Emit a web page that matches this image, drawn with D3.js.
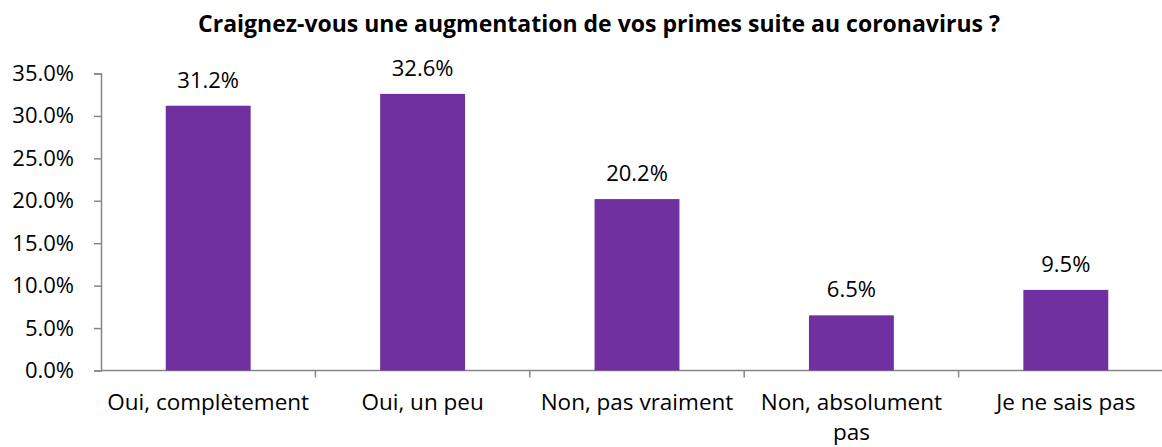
<!DOCTYPE html>
<html>
<head>
<meta charset="utf-8">
<script src="https://cdn.jsdelivr.net/npm/d3@7"></script>
<style>
  body { margin: 0; background: #fff; }
  text { font-family: "Open Sans", sans-serif; fill: #000; }
</style>
</head>
<body>
<svg width="1162" height="447"></svg>
<script>
// chart data
var categories = ["Oui, complètement", "Oui, un peu", "Non, pas vraiment", "Non, absolument pas", "Je ne sais pas"];
var values = [31.2, 32.6, 20.2, 6.5, 9.5];
var yTicks = [0, 5, 10, 15, 20, 25, 30, 35];
var title = "Craignez-vous une augmentation de vos primes suite au coronavirus ?";

var svg = d3.select("svg");

var x = d3.scaleBand()
  .domain(categories)
  .range([101, 1173])
  .padding(0);

var y = d3.scaleLinear()
  .domain([0, 35])
  .range([370.5, 73.5]);

// title
svg.append("text")
  .attr("x", 599)
  .attr("y", 32)
  .attr("text-anchor", "middle")
  .style("font-weight", "bold")
  .style("font-size", "23px")
  .text(title);

// y axis
var yAxis = d3.axisLeft(y)
  .tickValues(yTicks)
  .tickFormat(function(d) { return d.toFixed(1) + "%"; })
  .tickSize(7)
  .tickPadding(20);

var gy = svg.append("g")
  .attr("transform", "translate(101,0)")
  .call(yAxis);
gy.select(".domain").attr("stroke", "#868686").attr("stroke-width", 1.5);
gy.selectAll(".tick line").attr("stroke", "#868686").attr("stroke-width", 1.5);
gy.selectAll(".tick text")
  .style("font-size", "22px")
  .style("font-family", "'Open Sans', sans-serif")
  .attr("fill", "#000");

// x axis line + boundary ticks
svg.append("line")
  .attr("x1", 101).attr("x2", 1173)
  .attr("y1", y(0)).attr("y2", y(0))
  .attr("stroke", "#868686").attr("stroke-width", 1.5);

svg.selectAll(".xtick")
  .data(categories.slice(1))
  .enter().append("line")
  .attr("class", "xtick")
  .attr("x1", function(d) { return x(d); })
  .attr("x2", function(d) { return x(d); })
  .attr("y1", y(0)).attr("y2", y(0) + 7)
  .attr("stroke", "#868686").attr("stroke-width", 1.5);

// bars
svg.selectAll(".bar")
  .data(values)
  .enter().append("rect")
  .attr("class", "bar")
  .attr("x", function(d, i) { return x(categories[i]) + x.bandwidth() * 0.302; })
  .attr("width", x.bandwidth() * 0.396)
  .attr("y", function(d) { return y(d); })
  .attr("height", function(d) { return y(0) - y(d); })
  .attr("fill", "#7030A0");

// value labels
svg.selectAll(".val")
  .data(values)
  .enter().append("text")
  .attr("class", "val")
  .attr("x", function(d, i) { return x(categories[i]) + x.bandwidth() / 2; })
  .attr("y", function(d) { return y(d) - 18; })
  .attr("text-anchor", "middle")
  .style("font-size", "22px")
  .text(function(d) { return d.toFixed(1) + "%"; });

// category labels (wrap long one)
var catLines = {"Non, absolument pas": ["Non, absolument", "pas"]};
svg.selectAll(".cat")
  .data(categories)
  .enter().append("text")
  .attr("class", "cat")
  .attr("x", function(d) { return x(d) + x.bandwidth() / 2; })
  .attr("y", 410)
  .attr("text-anchor", "middle")
  .style("font-size", "22.5px")
  .each(function(d) {
    var lines = catLines[d] || [d];
    var t = d3.select(this);
    lines.forEach(function(l, k) {
      t.append("tspan")
        .attr("x", x(d) + x.bandwidth() / 2)
        .attr("dy", k === 0 ? 0 : 30)
        .text(l);
    });
  });
</script>
</body>
</html>
